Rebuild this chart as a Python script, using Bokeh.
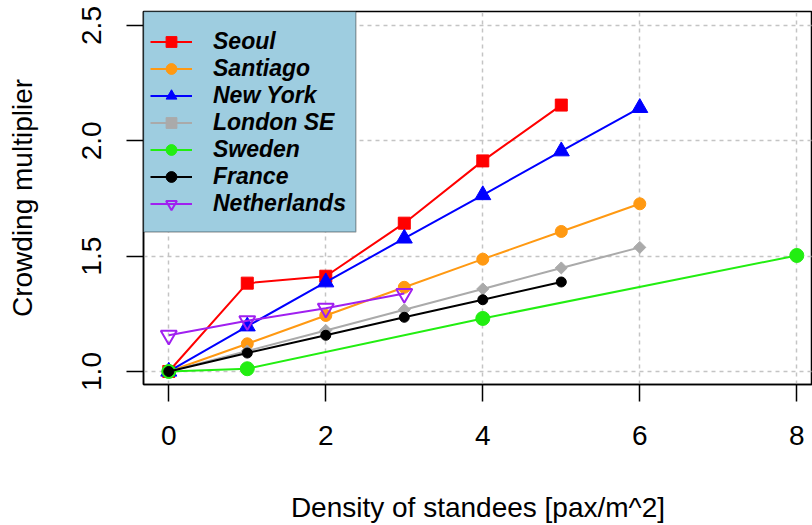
import numpy as np
from bokeh.plotting import figure
from bokeh.models import Range1d, FixedTicker, Legend, LegendItem, BoxAnnotation
from bokeh.embed import file_html
from bokeh.resources import INLINE

# ---------------- data ----------------
x_ticks = [0, 2, 4, 6, 8]
y_ticks = [1.0, 1.5, 2.0, 2.5]

seoul_x = [0, 1, 2, 3, 4, 5]
seoul_y = [1.00, 1.383, 1.413, 1.643, 1.913, 2.155]

santiago_x = [0, 1, 2, 3, 4, 5, 6]
santiago_y = [1.00, 1.12, 1.243, 1.365, 1.487, 1.607, 1.727]

newyork_x = [0, 1, 2, 3, 4, 5, 6]
newyork_y = [1.00, 1.196, 1.387, 1.577, 1.765, 1.955, 2.143]

london_x = [0, 1, 2, 3, 4, 5, 6]
london_y = [1.00, 1.089, 1.178, 1.268, 1.358, 1.449, 1.538]

sweden_x = [0, 1, 4, 8]
sweden_y = [1.00, 1.012, 1.23, 1.503]

france_x = [0, 1, 2, 3, 4, 5]
france_y = [1.00, 1.08, 1.157, 1.235, 1.311, 1.388]

netherlands_x = [0, 1, 2, 3]
netherlands_y = [1.157, 1.22, 1.274, 1.338]

series_names = ["Seoul", "Santiago", "New York", "London SE", "Sweden", "France", "Netherlands"]
x_title = "Density of standees [pax/m^2]"
y_title = "Crowding multiplier"

# ---------------- figure ----------------
FONT = "Liberation Sans"
p = figure(width=812, height=525, output_backend="svg", toolbar_location=None,
           x_range=Range1d(-0.322, 8.2), y_range=Range1d(0.9436, 2.5607),
           min_border_left=143, min_border_right=0, min_border_top=11,
           min_border_bottom=141,
           x_axis_label=x_title, y_axis_label=y_title)
p.background_fill_color = "white"
p.border_fill_color = "white"
p.outline_line_color = "black"
p.outline_line_width = 1.5

p.xaxis.ticker = FixedTicker(ticks=x_ticks)
p.yaxis.ticker = FixedTicker(ticks=y_ticks)
p.yaxis.major_label_overrides = {1.0: "1.0", 1.5: "1.5", 2.0: "2.0", 2.5: "2.5"}

for ax in (p.xaxis[0], p.yaxis[0]):
    ax.major_label_text_font = FONT
    ax.major_label_text_font_size = "28px"
    ax.major_label_text_color = "black"
    ax.axis_label_text_font = FONT
    ax.axis_label_text_font_size = "28px"
    ax.axis_label_text_font_style = "normal"
    ax.axis_label_text_color = "black"
    ax.major_tick_out = 17
    ax.major_tick_in = 0
    ax.minor_tick_out = 0
    ax.minor_tick_in = 0
    ax.major_tick_line_width = 1.5
    ax.major_tick_line_color = "black"
    ax.axis_line_width = 1.5
    ax.axis_line_color = "black"

p.xaxis.major_label_standoff = 24
p.xaxis.axis_label_standoff = 44
p.yaxis.major_label_standoff = 25
p.yaxis.axis_label_standoff = 42
p.yaxis.major_label_orientation = "vertical"

for g in (p.xgrid[0], p.ygrid[0]):
    g.grid_line_color = "#C4C4C4"
    g.grid_line_dash = "4 4"
    g.grid_line_width = 1.5

# ---------------- legend box ----------------
box = BoxAnnotation(right=2.383, bottom=1.6043, fill_color="#9ECDE0", fill_alpha=1.0,
                    line_color="black", line_width=1.5, level="annotation")
p.add_layout(box)

# ---------------- series ----------------
LW = 2
items = []

def add(name, xs, ys, color, marker, size, fill=True, angle=0.0, lw=LW):
    r1 = p.line(xs, ys, line_color=color, line_width=lw)
    if fill:
        r2 = p.scatter(xs, ys, marker=marker, size=size, fill_color=color,
                       line_color=color, line_width=1, angle=angle)
    else:
        r2 = p.scatter(xs, ys, marker=marker, size=size, fill_color=None,
                       line_color=color, line_width=2, angle=angle)
    items.append(LegendItem(label=name, renderers=[r1, r2]))

add(series_names[0], seoul_x, seoul_y, "#FF0000", "square", 12)
add(series_names[1], santiago_x, santiago_y, "#FF9912", "circle", 12)
add(series_names[2], newyork_x, newyork_y, "#0000FF", "triangle", 16)
add(series_names[3], london_x, london_y, "#AAAAAA", "square", 8.5, angle=np.pi / 4)
add(series_names[4], sweden_x, sweden_y, "#22EE11", "circle", 14)
add(series_names[5], france_x, france_y, "#000000", "circle", 10)
add(series_names[6], netherlands_x, netherlands_y, "#A020F0", "inverted_triangle", 16, fill=False)

legend = Legend(items=items, location=(0, 160), orientation="vertical",
                glyph_width=42, glyph_height=27, label_height=27, spacing=0,
                padding=7, margin=0, label_standoff=21,
                label_text_font=FONT, label_text_font_size="23px",
                label_text_font_style="bold italic", label_text_color="black",
                background_fill_alpha=0.0, border_line_alpha=0.0)
p.add_layout(legend)

open("out.html", "w").write(file_html(p, INLINE))
